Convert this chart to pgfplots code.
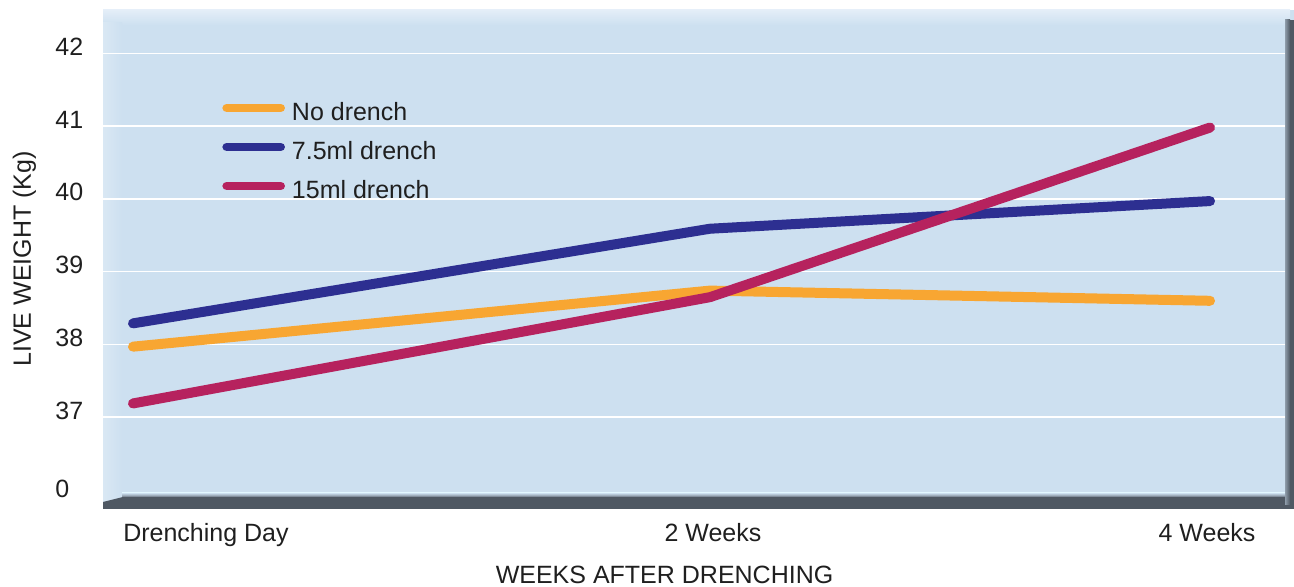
\documentclass[border=0pt]{standalone}
\usepackage{fontspec}
\setmainfont{Liberation Sans}
\usepackage{pgfplots}
\pgfplotsset{compat=1.18}
\definecolor{bg}{RGB}{205,224,240}
\definecolor{bgtop}{RGB}{228,238,248}
\definecolor{floorc}{RGB}{79,88,99}
\definecolor{cOrange}{RGB}{248,166,50}
\definecolor{cBlue}{RGB}{45,47,145}
\definecolor{cMag}{RGB}{182,34,94}
\newcommand{\lab}{\fontsize{12.5}{15}\selectfont}
\begin{document}
\begin{tikzpicture}
\useasboundingbox (0pt,0pt) rectangle (647pt,293.5pt);
% panel background
\fill[bg] (51.5pt,39pt) rectangle (647pt,288.5pt);
\shade[top color=bgtop, bottom color=bg] (51.5pt,281pt) rectangle (645pt,288.5pt);
\shade[left color=bg!75!white, right color=bg] (51.5pt,39pt) rectangle (61pt,282pt);
\begin{axis}[
  at={(51.5pt,39pt)}, anchor=south west,
  scale only axis, width=595.5pt, height=249.5pt,
  x coord trafo/.code={\pgfmathparse{(#1<=2)*(#1)+(#1>2)*(2+(#1-2)*0.8666)}},
  xmin=-0.104, xmax=4.336, ymin=35.74, ymax=42.595,
  axis line style={draw=none}, major tick length=0pt,
  /pgf/number format/assume math mode=true,
  ytick={37,38,39,40,41,42},
  yticklabels={37,38,39,40,41,42},
  ymajorgrids, grid style={white, line width=0.8pt},
  extra y ticks={36}, extra y tick labels={0},
  extra y tick style={grid=none, yticklabel style={yshift=-2.75pt}},
  yticklabel style={anchor=west, inner sep=0pt, xshift=-24pt, yshift=3.3pt, font=\lab, text=black!88},
  xtick={0.253,2.012,3.988},
  xticklabels={Drenching Day, 2 Weeks, 4 Weeks},
  xticklabel style={anchor=base, inner sep=0pt, yshift=-16.5pt, font=\lab, text=black!88},
  xlabel={WEEKS AFTER DRENCHING},
  xlabel style={at={(axis description cs:0.4715,0)}, anchor=base, inner sep=0pt, yshift=-37.5pt, font=\lab, text=black!88},
  ylabel={LIVE WEIGHT (Kg)},
  ylabel style={at={(axis description cs:-0.0605,0.501)}, rotate=0, anchor=base, inner sep=0pt, font=\lab, text=black!88},
  legend style={at={(axis description cs:0.0999,0.8156)}, anchor=north west, draw=none, fill=none,
    inner sep=0pt, row sep=7.5pt, font=\lab,
    nodes={text height=9pt, text depth=3pt, inner sep=0pt, text=black!88},
    /tikz/every odd column/.append style={column sep=3.5pt}},
  legend cell align=left,
  legend image code/.code={\draw[#1, line width=4.3pt, line cap=round] (0pt,3.2pt) -- (27pt,3.2pt);},
  every axis plot/.append style={line width=5pt, line cap=round, line join=round},
]
\addplot[cOrange] coordinates {(0,37.97) (2,38.74) (4,38.60)};
\addlegendentry{No drench}
\addplot[cBlue] coordinates {(0,38.29) (2,39.59) (4,39.97)};
\addlegendentry{7.5ml drench}
\addplot[cMag] coordinates {(0,37.19) (2,38.65) (4,40.98)};
\addlegendentry{15ml drench}
\end{axis}
% floor and right wall
\shade[top color=bg, bottom color=floorc!70!bg] (61pt,45pt) rectangle (643pt,47pt);
\fill[floorc] (51.5pt,39pt) -- (51.5pt,42.5pt) -- (61.5pt,45pt) -- (647pt,45pt) -- (647pt,39pt) -- cycle;
\shade[left color=bg!50!floorc, right color=floorc] (642.5pt,41pt) rectangle (645pt,283.5pt);
\fill[floorc] (645pt,39pt) rectangle (647pt,283.5pt);
\end{tikzpicture}
\end{document}
